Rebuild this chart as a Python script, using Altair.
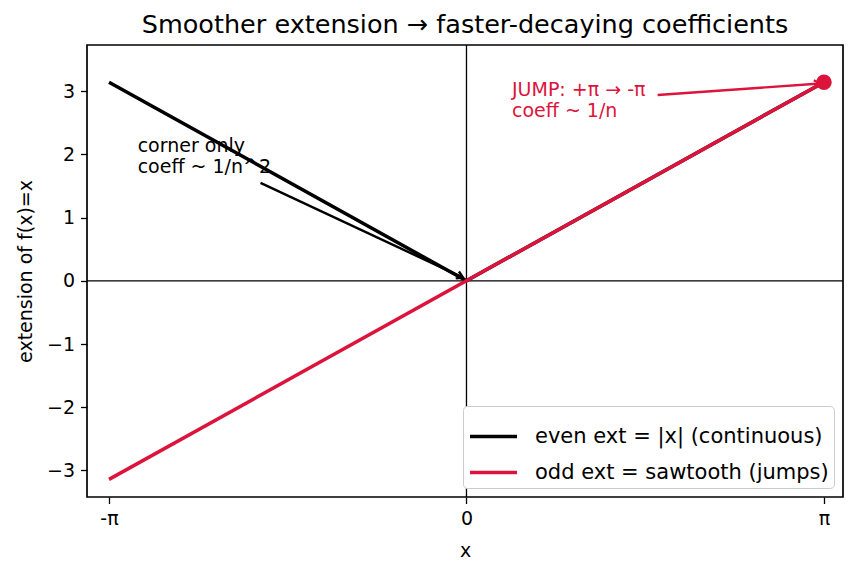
import math
import altair as alt
import pandas as pd

PI = math.pi

# even extension |x| on [-pi, pi], odd extension (sawtooth) on [-pi, pi]
even_x = [-PI, 0.0, PI]
even_y = [PI, 0.0, PI]
odd_x = [-PI, PI]
odd_y = [-PI, PI]

series_names = ["even ext = |x| (continuous)", "odd ext = sawtooth (jumps)"]
series_colors = ["black", "#DC143C"]

# annotation arrows: (x_start, y_start, x_end, y_end)
corner_arrow = [-1.81, 1.55, -0.03, 0.05]
jump_arrow = [1.68, 2.94, 3.11, 3.12]
corner_text = ["corner only", "coeff ~ 1/n^2"]
corner_text_pos = [-2.89, 2.14]
jump_text = ["JUMP: +π → -π", "coeff ~ 1/n"]
jump_text_pos = [0.40, 3.02]
jump_point = [PI, PI]

x_ticks = [-PI, 0.0, PI]
y_ticks = [-3, -2, -1, 0, 1, 2, 3]

X_DOM = [-3.335, 3.309]
Y_DOM = [-3.42, 3.73]
W, H = 756, 452
FONT = "DejaVu Sans"
FS = 19

xs = alt.Scale(domain=X_DOM, nice=False, zero=False)
ys = alt.Scale(domain=Y_DOM, nice=False, zero=False)
cs = alt.Scale(domain=series_names, range=series_colors)

x_axis = alt.Axis(values=x_ticks, title="x",
                  labelExpr="datum.value < -1 ? '-π' : (datum.value > 1 ? 'π' : '0')",
                  titleX=W / 2, titleY=53, titleBaseline="middle")
y_axis = alt.Axis(values=y_ticks, title="extension of f(x)=x", format="d",
                  titleX=-62, titleY=H / 2, titleBaseline="middle", titleAlign="center")

even_df = pd.DataFrame({"x": even_x, "y": even_y, "series": series_names[0]})
odd_df = pd.DataFrame({"x": odd_x, "y": odd_y, "series": series_names[1]})

legend = alt.Legend(title=None, orient="bottom-right", offset=9,
                    symbolType="stroke", symbolStrokeWidth=3.5, symbolSize=2209,
                    labelFontSize=21, labelFont=FONT, labelColor="black", labelLimit=0,
                    fillColor="white", strokeColor="#cccccc", cornerRadius=4,
                    padding=5, rowPadding=-8, labelOffset=16)

base_even = alt.Chart(even_df).mark_line(strokeWidth=3.5).encode(
    x=alt.X("x:Q", scale=xs, axis=x_axis),
    y=alt.Y("y:Q", scale=ys, axis=y_axis),
    color=alt.Color("series:N", scale=cs, legend=legend),
)
base_odd = alt.Chart(odd_df).mark_line(strokeWidth=3.5).encode(
    x=alt.X("x:Q", scale=xs),
    y=alt.Y("y:Q", scale=ys),
    color=alt.Color("series:N", scale=cs, legend=legend),
)

# zero reference lines
zero_df = pd.DataFrame({"v": [0.0]})
hline = alt.Chart(zero_df).mark_rule(color="black", strokeWidth=1.3).encode(y=alt.Y("v:Q", scale=ys))
vline = alt.Chart(zero_df).mark_rule(color="black", strokeWidth=1.3).encode(x=alt.X("v:Q", scale=xs))


def pixel_angle(a):
    # clockwise angle (deg, from "up") of the arrow direction in screen space
    dx = (a[2] - a[0]) / (X_DOM[1] - X_DOM[0]) * W
    dy = -(a[3] - a[1]) / (Y_DOM[1] - Y_DOM[0]) * H
    return math.degrees(math.atan2(dx, -dy)) % 360


def arrow(a, color):
    seg = pd.DataFrame({"x": [a[0]], "y": [a[1]], "x2": [a[2]], "y2": [a[3]]})
    shaft = alt.Chart(seg).mark_rule(color=color, strokeWidth=2.4).encode(
        x=alt.X("x:Q", scale=xs), y=alt.Y("y:Q", scale=ys), x2="x2:Q", y2="y2:Q")
    head = alt.Chart(seg).mark_point(
        shape="M -0.6 1 L 0 0 L 0.6 1", filled=False, stroke=color, strokeWidth=2.4,
        size=160, angle=pixel_angle(a), opacity=1,
    ).encode(x=alt.X("x2:Q", scale=xs), y=alt.Y("y2:Q", scale=ys))
    return shaft + head


def label(lines, pos, color):
    df = pd.DataFrame({"x": [pos[0]], "y": [pos[1]], "t": ["\n".join(lines)]})
    return alt.Chart(df).mark_text(
        align="left", baseline="middle", font=FONT, fontSize=FS, color=color,
        lineBreak="\n", lineHeight=21.5,
    ).encode(x=alt.X("x:Q", scale=xs), y=alt.Y("y:Q", scale=ys), text="t:N")


dot_df = pd.DataFrame({"x": [jump_point[0]], "y": [jump_point[1]]})
dot = alt.Chart(dot_df).mark_circle(color="#DC143C", size=240, opacity=1).encode(
    x=alt.X("x:Q", scale=xs), y=alt.Y("y:Q", scale=ys))

chart = alt.layer(
    hline, vline, base_even, base_odd, dot,
    arrow(corner_arrow, "black"), arrow(jump_arrow, "#DC143C"),
    label(corner_text, corner_text_pos, "black"),
    label(jump_text, jump_text_pos, "#DC143C"),
).properties(
    width=W, height=H,
    background="white",
    title=alt.TitleParams("Smoother extension → faster-decaying coefficients",
                          font=FONT, fontSize=25.5, fontWeight="normal",
                          color="black", offset=6),
    autosize=alt.AutoSizeParams(type="none"),
    padding={"left": 87, "top": 45, "right": 17, "bottom": 76},
).configure_view(
    stroke="black", strokeWidth=1.7,
).configure_axis(
    grid=False, domain=False, ticks=True, tickColor="black", tickSize=6.5, tickWidth=1.3,
    labelFont=FONT, labelFontSize=FS, labelColor="black", labelPadding=6,
    titleFont=FONT, titleFontSize=FS, titleColor="black", titleFontWeight="normal",
)

chart.save("out.html", embed_options={"renderer": "svg", "actions": False})
